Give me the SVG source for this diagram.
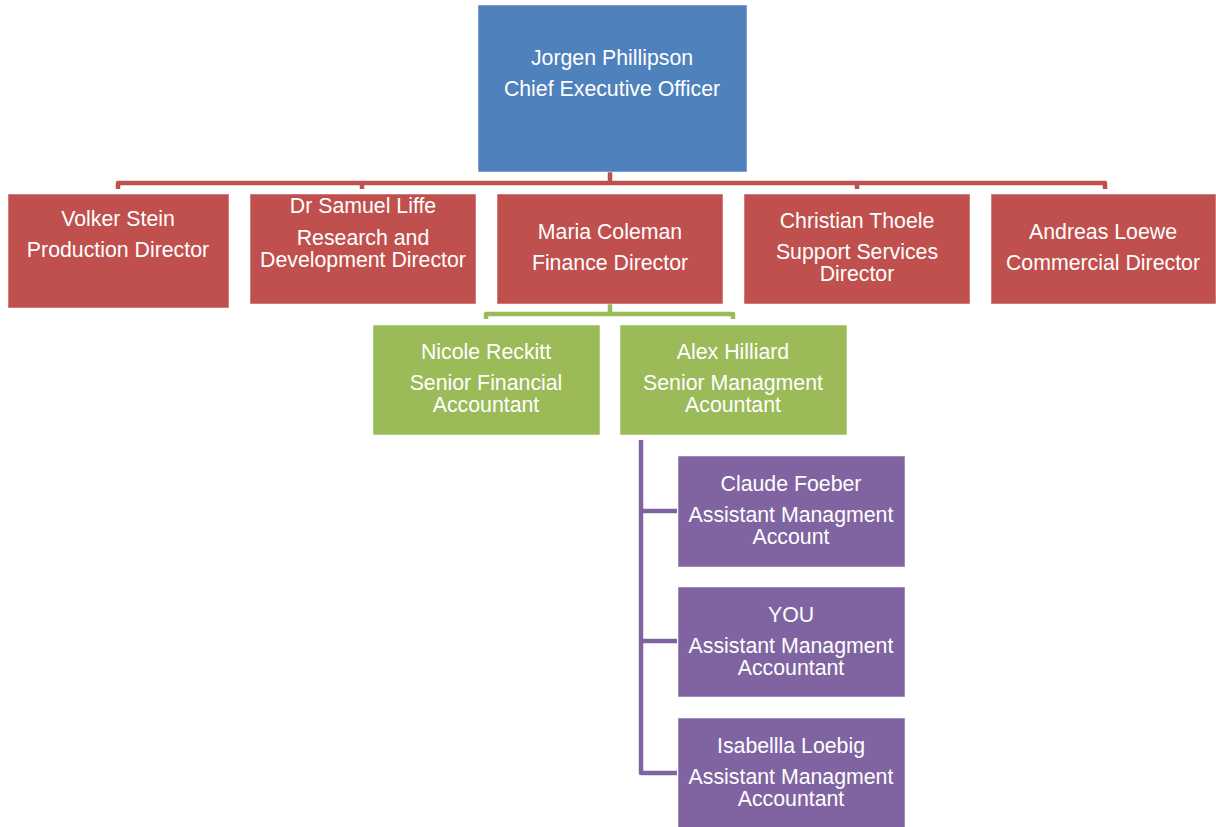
<svg xmlns="http://www.w3.org/2000/svg" width="1216" height="827" viewBox="0 0 1216 827">
<style>
text{font-family:"Liberation Sans",Arial,sans-serif;font-size:21.3px;fill:#fff;text-anchor:middle}
.box{stroke:#fff;stroke-opacity:0.5;stroke-width:1}
.blue{fill:#4F81BD}.red{fill:#C0504D}.green{fill:#9BBB59}.purple{fill:#8064A2}
.c{fill:none;stroke-width:4.5;stroke-linejoin:round;stroke-linecap:butt}
</style>
<rect width="1216" height="827" fill="#fff"/>
<g id="connectors">
<path class="c" stroke="#C0504D" d="M118,189 V183 H1105 V189 M610,172 V183 M362,183 V189 M857,183 V189"/>
<path class="c" stroke="#9BBB59" d="M486,319 V314 H733 V319 M610,304 V314"/>
<path class="c" stroke="#8064A2" stroke-width="5" d="M641,440 V773 H677 M641,511 H677 M641,641 H677"/>
</g>
<g id="ceo"><rect class="box blue" x="478" y="5" width="269" height="167"/><text x="612" y="65">Jorgen Phillipson</text><text x="612" y="96">Chief Executive Officer</text></g>
<g id="volker"><rect class="box red" x="8" y="194" width="221" height="114"/><text x="118" y="226">Volker Stein</text><text x="118" y="257">Production Director</text></g>
<g id="samuel"><rect class="box red" x="250" y="194" width="226" height="110"/><text x="363" y="213">Dr Samuel Liffe</text><text x="363" y="245">Research and</text><text x="363" y="267">Development Director</text></g>
<g id="maria"><rect class="box red" x="497" y="194" width="226" height="110"/><text x="610" y="239">Maria Coleman</text><text x="610" y="270">Finance Director</text></g>
<g id="christian"><rect class="box red" x="744" y="194" width="226" height="110"/><text x="857" y="228">Christian Thoele</text><text x="857" y="259">Support Services</text><text x="857" y="281">Director</text></g>
<g id="andreas"><rect class="box red" x="991" y="194" width="225" height="110"/><text x="1103" y="239">Andreas Loewe</text><text x="1103" y="270">Commercial Director</text></g>
<g id="nicole"><rect class="box green" x="373" y="325" width="227" height="110"/><text x="486" y="359">Nicole Reckitt</text><text x="486" y="390">Senior Financial</text><text x="486" y="412">Accountant</text></g>
<g id="alex"><rect class="box green" x="620" y="325" width="227" height="110"/><text x="733" y="359">Alex Hilliard</text><text x="733" y="390">Senior Managment</text><text x="733" y="412">Acountant</text></g>
<g id="claude"><rect class="box purple" x="678" y="456" width="227" height="111"/><text x="791" y="491">Claude Foeber</text><text x="791" y="522">Assistant Managment</text><text x="791" y="544">Account</text></g>
<g id="you"><rect class="box purple" x="678" y="587" width="227" height="110"/><text x="791" y="622">YOU</text><text x="791" y="653">Assistant Managment</text><text x="791" y="675">Accountant</text></g>
<g id="isabella"><rect class="box purple" x="678" y="718" width="227" height="110"/><text x="791" y="753">Isabellla Loebig</text><text x="791" y="784">Assistant Managment</text><text x="791" y="806">Accountant</text></g>
</svg>
